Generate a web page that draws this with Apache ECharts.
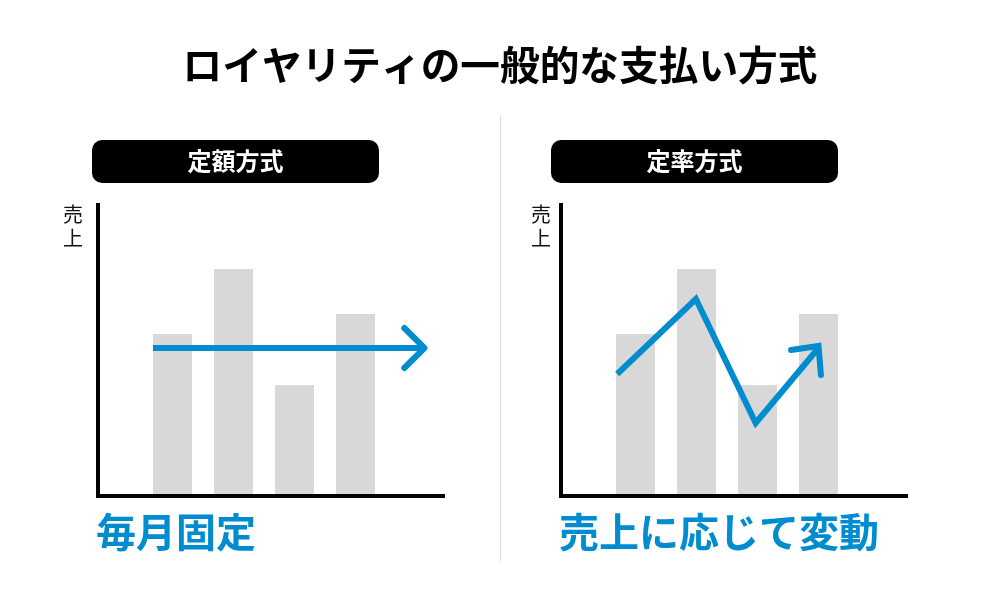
<!DOCTYPE html>
<html>
	<head>
		<meta charset="utf-8" />
		<script type="text/javascript" src="https://cdn.jsdelivr.net/npm/echarts@6/dist/echarts.min.js"></script>
		<title></title>
		<style>body { margin: 0; background: #fff; }</style>
	</head>
	<body>
		<div id="chartmain" style="width:1000px; height:600px;"></div>
		<script type="text/javascript">
var mainTitle = 'ロイヤリティの一般的な支払い方式';
var panelNames = ['定額方式', '定率方式'];
var panelCaptions = ['毎月固定', '売上に応じて変動'];
var yName = '売\n上';

var barSlots = [1, 2, 3, 4];
var salesValues = [162, 227, 111, 182];

// blue lines: [slot, value]
var fixedLine = [[0.68, 148], [5.13, 148]];
var fixedHead = [[4.80, 168], [5.13, 148], [4.80, 128]];
var rateLine = [[0.70, 122], [1.99, 197], [2.97, 73], [4.00, 148]];
var rateHead = [[3.55, 146], [4.00, 150], [4.04, 121]];

var BLUE = '#008CCF';
var FONT = '"Noto Sans CJK JP", sans-serif';

function bars(gridIndex) {
  return {
    type: 'bar',
    xAxisIndex: gridIndex,
    yAxisIndex: gridIndex,
    barWidth: 39,
    itemStyle: { color: '#D8D8D8' },
    data: barSlots.map(function (slot, i) { return [slot, salesValues[i]]; })
  };
}
function blueLine(gridIndex, data, cap, join) {
  return {
    type: 'line',
    xAxisIndex: gridIndex,
    yAxisIndex: gridIndex,
    symbol: 'none',
    silent: true,
    lineStyle: { color: BLUE, width: 6, cap: cap, join: join, miterLimit: 10 },
    data: data
  };
}
function xAxis(gridIndex) {
  return {
    type: 'value',
    gridIndex: gridIndex,
    min: -0.2213,
    max: 5.4344,
    z: 5,
    axisLine: { show: true, onZero: false, lineStyle: { color: '#000', width: 4, cap: 'square' } },
    axisTick: { show: false },
    axisLabel: { show: false },
    splitLine: { show: false }
  };
}
function yAxis(gridIndex) {
  return {
    type: 'value',
    gridIndex: gridIndex,
    min: 0,
    max: 291,
    z: 5,
    axisLine: { show: true, onZero: false, lineStyle: { color: '#000', width: 4, cap: 'square' } },
    axisTick: { show: false },
    axisLabel: { show: false },
    splitLine: { show: false }
  };
}
function label(text, left, top, size, weight, color, lineHeight) {
  return {
    text: text,
    left: left,
    top: top,
    padding: 0,
    textStyle: {
      fontFamily: FONT,
      fontSize: size,
      fontWeight: weight,
      color: color,
      lineHeight: lineHeight
    }
  };
}
function pill(x, text) {
  return {
    type: 'rect',
    shape: { x: x, y: 140, width: 287, height: 43, r: 10 },
    style: { fill: '#000' },
    textContent: {
      style: { text: text, fill: '#fff', fontFamily: FONT, fontSize: 24, fontWeight: 'bold' }
    },
    textConfig: { position: 'inside', offset: [0, -1] }
  };
}

var option = {
  backgroundColor: '#fff',
  animation: false,
  title: [
    label(mainTitle, 'center', 41, 39.7, 'bold', '#000', 48),
    label(yName, 63, 202, 20, 'normal', '#111', 24),
    label(yName, 531, 202, 20, 'normal', '#111', 24),
    label(panelCaptions[0], 96, 508, 40, 'bold', BLUE, 48),
    label(panelCaptions[1], 559, 508, 40, 'bold', BLUE, 48)
  ],
  grid: [
    { left: 98, top: 205, width: 345, height: 291 },
    { left: 561, top: 205, width: 345, height: 291 }
  ],
  xAxis: [xAxis(0), xAxis(1)],
  yAxis: [yAxis(0), yAxis(1)],
  series: [
    bars(0),
    bars(1),
    blueLine(0, fixedLine, 'butt', 'miter'),
    blueLine(0, fixedHead, 'round', 'round'),
    blueLine(1, rateLine, 'butt', 'miter'),
    blueLine(1, rateHead, 'round', 'miter')
  ],
  graphic: [
    pill(92, panelNames[0]),
    pill(551, panelNames[1]),
    { type: 'rect', shape: { x: 500, y: 115, width: 1, height: 446 }, style: { fill: '#DDDDDD' } }
  ]
};

var myChart = echarts.init(document.getElementById('chartmain'));
myChart.setOption(option);
		</script>
	</body>
</html>
